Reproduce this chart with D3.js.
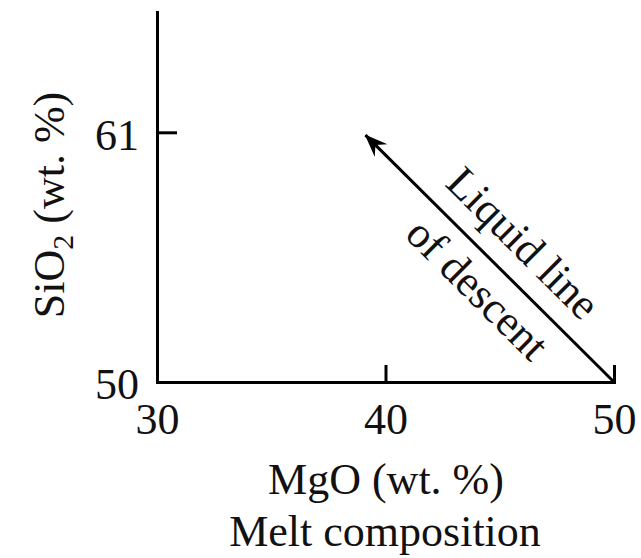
<!DOCTYPE html>
<html>
<head>
<meta charset="utf-8">
<script src="https://cdn.jsdelivr.net/npm/d3@7"></script>
<style>
  body { margin: 0; background: #fff; }
  svg text { font-family: "Liberation Serif", "Times New Roman", serif; fill: #111; }
  .axis path, .axis line { stroke: #000; stroke-width: 3; }
</style>
</head>
<body>
<div id="chart"></div>
<script>
// axis ranges and ticks
var xDomain = [30, 50];
var yDomain = [50, 66.3];
var xTicks = [30, 40, 50];
var yTicks = [50, 61];

// liquid line of descent: start (MgO, SiO2) -> end
var descentMgO = [50, 39];
var descentSiO2 = [50, 61];
var descentLabel = ["Liquid line", "of descent"];

var width = 641, height = 558;
var fontSize = 44;

var svg = d3.select("#chart").append("svg")
  .attr("width", width)
  .attr("height", height);

var xScale = d3.scaleLinear().domain(xDomain).range([157, 614]);
var yScale = d3.scaleLinear().domain(yDomain).range([382, 12]);

// x axis, ticks pointing inward
var xAxis = d3.axisBottom(xScale)
  .tickValues(xTicks)
  .tickSizeInner(-17)
  .tickSizeOuter(0)
  .tickPadding(21)
  .tickFormat(d3.format("d"));

var gx = svg.append("g")
  .attr("class", "axis")
  .attr("transform", "translate(0," + yScale(yDomain[0]) + ")")
  .call(xAxis);
gx.selectAll("text").style("font-size", fontSize + "px");
gx.selectAll(".tick").filter(function(d) { return d === 30; }).select("line").remove();

// y axis
var yAxis = d3.axisLeft(yScale)
  .tickValues(yTicks)
  .tickSizeInner(-20)
  .tickSizeOuter(0)
  .tickPadding(18)
  .tickFormat(d3.format("d"));

var gy = svg.append("g")
  .attr("class", "axis")
  .attr("transform", "translate(" + xScale(xDomain[0]) + ",0)")
  .call(yAxis);
gy.selectAll("text").style("font-size", fontSize + "px").attr("dy", "0.38em");
gy.selectAll(".tick").filter(function(d) { return d === 50; }).select("line").remove();
svg.selectAll(".axis .domain").attr("stroke-linecap", "square");

// arrow marker
svg.append("defs").append("marker")
  .attr("id", "head")
  .attr("markerUnits", "userSpaceOnUse")
  .attr("viewBox", "-24 -10 26 20")
  .attr("refX", 0)
  .attr("refY", 0)
  .attr("markerWidth", 26)
  .attr("markerHeight", 20)
  .attr("orient", "auto")
  .append("path")
  .attr("d", "M1,0 L-22,-9 L-14,0 L-22,9 Z")
  .attr("fill", "#000");

var x0 = xScale(descentMgO[0]), y0 = yScale(descentSiO2[0]);
var x1 = xScale(descentMgO[1]), y1 = yScale(descentSiO2[1]);

svg.append("line")
  .attr("x1", x0).attr("y1", y0)
  .attr("x2", x1 + 4 * (x0 - x1) / Math.hypot(x0 - x1, y0 - y1))
  .attr("y2", y1 + 4 * (y0 - y1) / Math.hypot(x0 - x1, y0 - y1))
  .attr("stroke", "#000")
  .attr("stroke-width", 3)
  .attr("marker-end", "url(#head)");

// labels along the arrow
var len = Math.hypot(x0 - x1, y0 - y1);
var ux = (x0 - x1) / len, uy = (y0 - y1) / len;   // direction tip -> start
var nx = -uy, ny = ux;                             // normal
if (ny > 0) { nx = -nx; ny = -ny; }                // point up-right
var angle = Math.atan2(uy, ux) * 180 / Math.PI;
var along = 192;
var offsets = [20, -45];

descentLabel.forEach(function(t, i) {
  var px = x1 + ux * along + nx * offsets[i];
  var py = y1 + uy * along + ny * offsets[i];
  svg.append("text")
    .attr("text-anchor", "middle")
    .attr("transform", "translate(" + px + "," + py + ") rotate(" + angle + ")")
    .style("font-size", fontSize + "px")
    .text(t);
});

// axis titles
var yTitle = svg.append("text")
  .attr("text-anchor", "middle")
  .attr("transform", "translate(64,205) rotate(-90)")
  .style("font-size", fontSize + "px");
yTitle.append("tspan").text("SiO");
yTitle.append("tspan").attr("dy", 9).style("font-size", "30px").text("2");
yTitle.append("tspan").attr("dy", -9).text(" (wt. %)");

svg.append("text")
  .attr("text-anchor", "middle")
  .attr("x", 386)
  .attr("y", 494)
  .style("font-size", fontSize + "px")
  .text("MgO (wt. %)");

svg.append("text")
  .attr("text-anchor", "middle")
  .attr("x", 385)
  .attr("y", 546)
  .style("font-size", fontSize + "px")
  .text("Melt composition");
</script>
</body>
</html>
